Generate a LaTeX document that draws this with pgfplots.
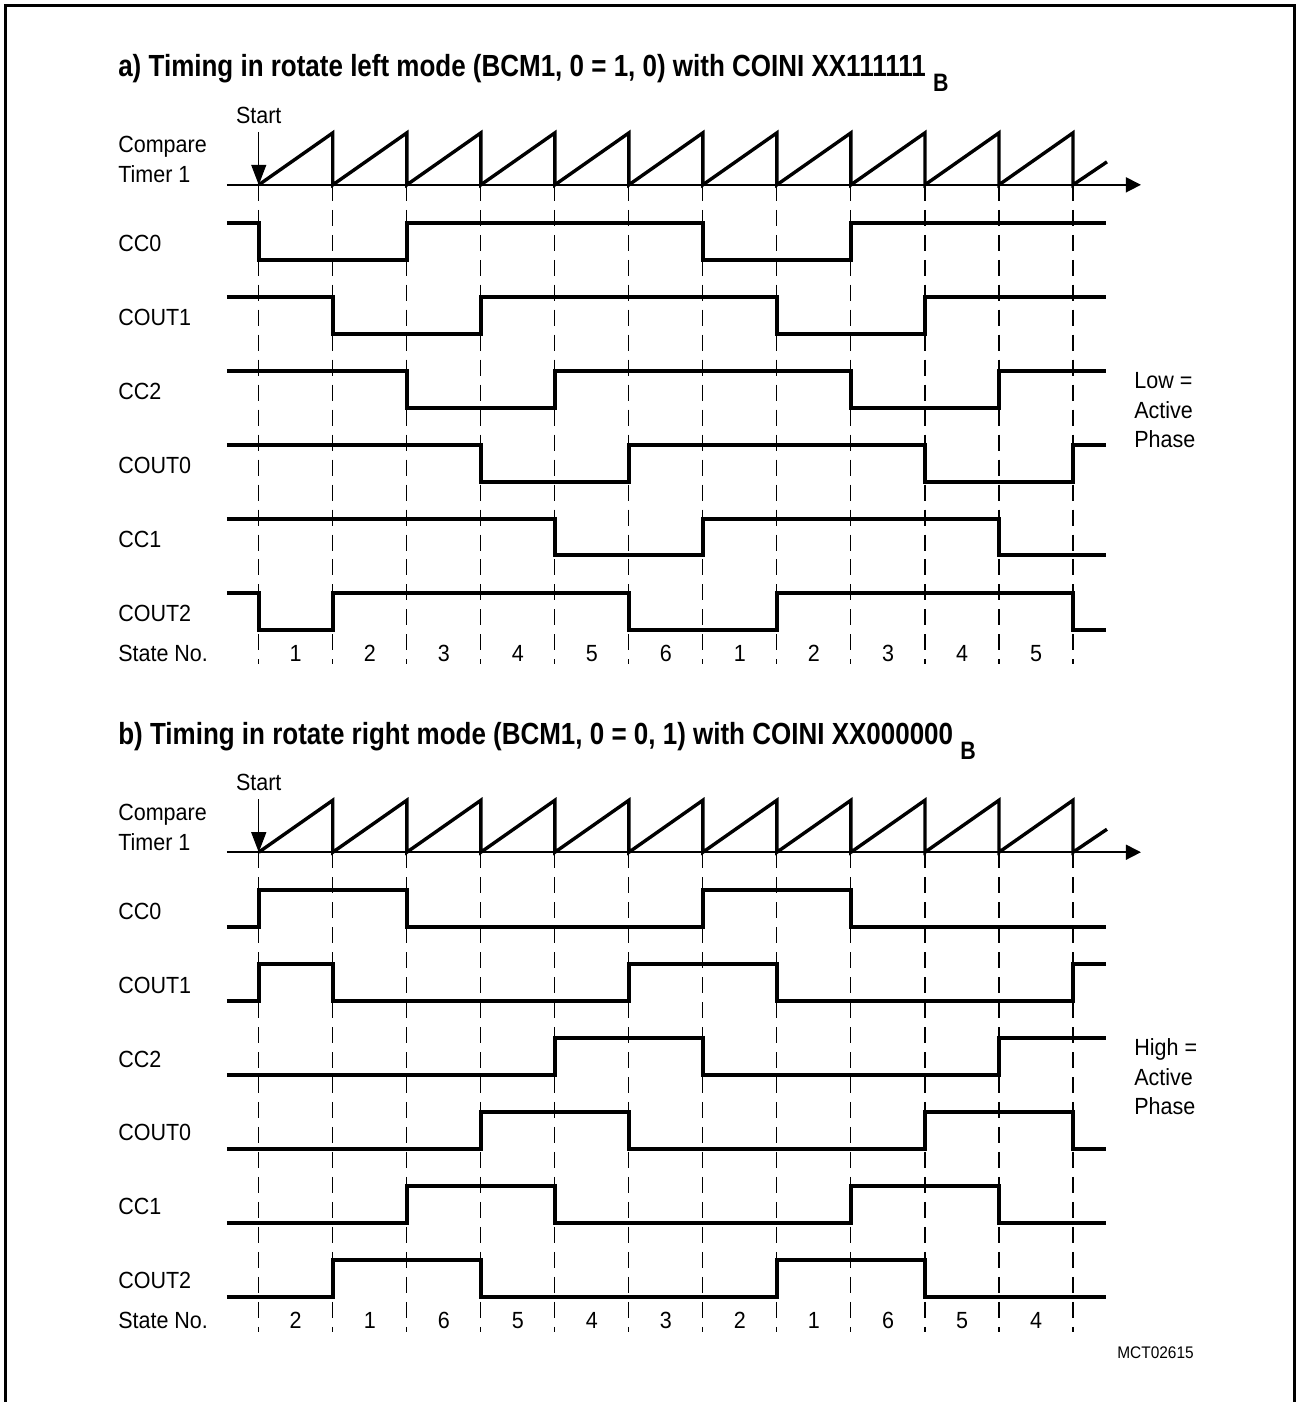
\documentclass[border=0pt]{standalone}
\usepackage{pgfplots}
\pgfplotsset{compat=1.18}
\usetikzlibrary{arrows.meta}
\usepackage{fontspec}
\setmainfont{Liberation Sans}[FakeStretch=0.92]
\newfontfamily\tfont{Liberation Sans}[FakeStretch=0.85]

\newcommand{\lab}[3]{\node[anchor=base west,inner sep=0pt,font=\fontsize{11.7}{14}\selectfont] at (axis cs:#1,#2) {#3};}
\newcommand{\num}[3]{\node[anchor=base,inner sep=0pt,font=\fontsize{11.7}{14}\selectfont] at (axis cs:#1,#2) {#3};}

\begin{document}
\begin{tikzpicture}
\begin{axis}[
  x=0.5pt, y=0.5pt, y dir=reverse,
  xmin=0, xmax=1297, ymin=0, ymax=1403,
  hide axis, clip=false,
  sig/.style={black, line width=2pt, const plot, mark=none},
  saw/.style={black, line width=1.7pt, mark=none, line join=miter},
  grid line/.style={black, line width=0.55pt, dash pattern=on 8pt off 4.5pt, mark=none},
]
\path (axis cs:0,0) rectangle (axis cs:1297,1403);
% frame
\addplot[black, line width=1.3pt, mark=none] coordinates {(5.5,1403) (5.5,5.5) (1295.5,5.5) (1295.5,1403)};

% ---------- part a ----------
\node[anchor=base west,inner sep=0pt,font=\tfont\fontsize{15.3}{18}\selectfont\bfseries] at (axis cs:118,77)
  {a) Timing in rotate left mode (BCM1, 0 = 1, 0) with COINI XX111111 \raisebox{-7.5pt}{\fontsize{12.6}{14}\selectfont B}};
\pgfplotsinvokeforeach{259,333.1,407.2,481.3,555.4,629.5,703.5,777.6,851.7,925.8,999.9,1074}{
  \addplot[grid line] coordinates {(#1,185) (#1,665)};
}
\addplot[black, line width=0.8pt, mark=none, -{Triangle[length=7.5pt,width=7.5pt]}] coordinates {(227,185) (1142,185)};
\addplot[saw] coordinates {(259,185) (333.1,133) (333.1,185) (407.2,133) (407.2,185) (481.3,133) (481.3,185) (555.4,133) (555.4,185) (629.5,133) (629.5,185) (703.5,133) (703.5,185) (777.6,133) (777.6,185) (851.7,133) (851.7,185) (925.8,133) (925.8,185) (999.9,133) (999.9,185) (1074,133) (1074,185) (1108,162)};
\addplot[black, line width=0.55pt, mark=none, -{Triangle[length=10pt,width=7.5pt]}] coordinates {(259,132) (259,185)};
\addplot[sig] coordinates {(227,223) (259,260) (407.2,223) (703.5,260) (851.7,223) (1107,223)};
\addplot[sig] coordinates {(227,297) (333.1,334) (481.3,297) (777.6,334) (925.8,297) (1107,297)};
\addplot[sig] coordinates {(227,371) (407.2,408) (555.4,371) (851.7,408) (999.9,371) (1107,371)};
\addplot[sig] coordinates {(227,445) (481.3,482) (629.5,445) (925.8,482) (1074,445) (1107,445)};
\addplot[sig] coordinates {(227,519) (555.4,556) (703.5,519) (999.9,556) (1107,556)};
\addplot[sig] coordinates {(227,593.5) (259,630.5) (333.1,593.5) (629.5,630.5) (777.6,593.5) (1074,630.5) (1107,630.5)};
\num{259}{124}{Start}
\lab{118}{153}{Compare}
\lab{118}{183}{Timer 1}
\lab{118}{252}{CC0}
\lab{118}{326}{COUT1}
\lab{118}{400}{CC2}
\lab{118}{474}{COUT0}
\lab{118}{548}{CC1}
\lab{118}{622}{COUT2}
\lab{118}{662}{State No.}
\lab{1135}{389}{Low =}
\lab{1135}{419}{Active}
\lab{1135}{448}{Phase}
\num{296}{662}{1}
\num{370.2}{662}{2}
\num{444.3}{662}{3}
\num{518.4}{662}{4}
\num{592.5}{662}{5}
\num{666.5}{662}{6}
\num{740.6}{662}{1}
\num{814.7}{662}{2}
\num{888.8}{662}{3}
\num{962.9}{662}{4}
\num{1037}{662}{5}

% ---------- part b ----------
\node[anchor=base west,inner sep=0pt,font=\tfont\fontsize{15.3}{18}\selectfont\bfseries] at (axis cs:118,745)
  {b) Timing in rotate right mode (BCM1, 0 = 0, 1) with COINI XX000000 \raisebox{-7.5pt}{\fontsize{12.6}{14}\selectfont B}};
\pgfplotsinvokeforeach{259,333.1,407.2,481.3,555.4,629.5,703.5,777.6,851.7,925.8,999.9,1074}{
  \addplot[grid line] coordinates {(#1,853) (#1,1333)};
}
\addplot[black, line width=0.8pt, mark=none, -{Triangle[length=7.5pt,width=7.5pt]}] coordinates {(227,853) (1142,853)};
\addplot[saw] coordinates {(259,853) (333.1,801) (333.1,853) (407.2,801) (407.2,853) (481.3,801) (481.3,853) (555.4,801) (555.4,853) (629.5,801) (629.5,853) (703.5,801) (703.5,853) (777.6,801) (777.6,853) (851.7,801) (851.7,853) (925.8,801) (925.8,853) (999.9,801) (999.9,853) (1074,801) (1074,853) (1108,830)};
\addplot[black, line width=0.55pt, mark=none, -{Triangle[length=10pt,width=7.5pt]}] coordinates {(259,800) (259,853)};
\addplot[sig] coordinates {(227,928) (259,891) (407.2,928) (703.5,891) (851.7,928) (1107,928)};
\addplot[sig] coordinates {(227,1002) (259,965) (333.1,1002) (629.5,965) (777.6,1002) (1074,965) (1107,965)};
\addplot[sig] coordinates {(227,1076) (555.4,1039) (703.5,1076) (999.9,1039) (1107,1039)};
\addplot[sig] coordinates {(227,1150) (481.3,1113) (629.5,1150) (925.8,1113) (1074,1150) (1107,1150)};
\addplot[sig] coordinates {(227,1224) (407.2,1187) (555.4,1224) (851.7,1187) (999.9,1224) (1107,1224)};
\addplot[sig] coordinates {(227,1298.5) (333.1,1261.5) (481.3,1298.5) (777.6,1261.5) (925.8,1298.5) (1107,1298.5)};
\num{259}{791}{Start}
\lab{118}{821}{Compare}
\lab{118}{851}{Timer 1}
\lab{118}{920}{CC0}
\lab{118}{994}{COUT1}
\lab{118}{1068}{CC2}
\lab{118}{1142}{COUT0}
\lab{118}{1216}{CC1}
\lab{118}{1290}{COUT2}
\lab{118}{1330}{State No.}
\lab{1135}{1056}{High =}
\lab{1135}{1086}{Active}
\lab{1135}{1116}{Phase}
\num{296}{1330}{2}
\num{370.2}{1330}{1}
\num{444.3}{1330}{6}
\num{518.4}{1330}{5}
\num{592.5}{1330}{4}
\num{666.5}{1330}{3}
\num{740.6}{1330}{2}
\num{814.7}{1330}{1}
\num{888.8}{1330}{6}
\num{962.9}{1330}{5}
\num{1037}{1330}{4}
\node[anchor=base west,inner sep=0pt,font=\fontsize{8.4}{10}\selectfont] at (axis cs:1118,1360) {MCT02615};
\end{axis}
\end{tikzpicture}
\end{document}
